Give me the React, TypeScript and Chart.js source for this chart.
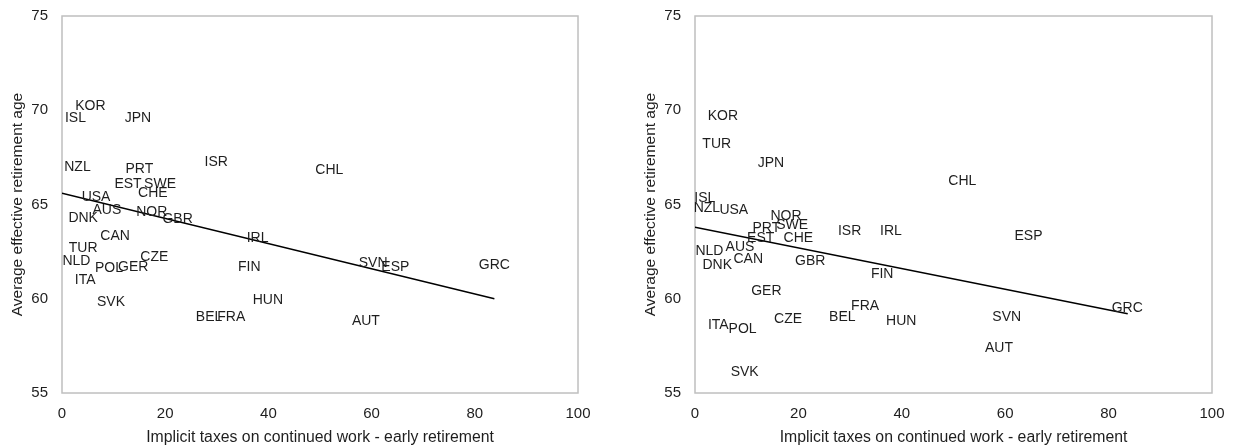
import React, { useEffect, useRef } from "react";
import { Chart, registerables } from "chart.js";

Chart.register(...registerables);

// Left panel
const leftCountries = ["KOR", "ISL", "JPN", "NZL", "PRT", "ISR", "EST", "SWE", "CHE", "USA", "AUS", "DNK", "NOR", "GBR", "CAN", "IRL", "TUR", "NLD", "CZE", "POL", "GER", "FIN", "ITA", "SVK", "HUN", "BEL", "FRA", "CHL", "SVN", "ESP", "GRC", "AUT"];
const leftTaxes = [5.5, 2.6, 14.7, 3.0, 15.0, 29.9, 12.8, 19.0, 17.6, 6.6, 8.7, 4.1, 17.4, 22.4, 10.3, 37.9, 4.1, 2.8, 17.9, 9.1, 13.8, 36.3, 4.5, 9.5, 39.9, 28.5, 32.8, 51.8, 60.3, 64.6, 83.8, 58.9];
const leftAge = [70.2, 69.6, 69.6, 67.0, 66.9, 67.25, 66.1, 66.1, 65.6, 65.4, 64.7, 64.3, 64.6, 64.2, 63.3, 63.2, 62.7, 62.0, 62.2, 61.6, 61.7, 61.7, 61.0, 59.8, 59.9, 59.0, 59.0, 66.8, 61.9, 61.7, 61.8, 58.8];
const leftTrendX = [0, 83.8];
const leftTrendY = [65.6, 60.0];

// Right panel
const rightCountries = ["KOR", "TUR", "JPN", "ISL", "NZL", "USA", "NOR", "PRT", "SWE", "ISR", "IRL", "EST", "CHE", "AUS", "NLD", "CAN", "DNK", "GBR", "FIN", "GER", "FRA", "BEL", "CZE", "HUN", "ITA", "POL", "SVK", "CHL", "ESP", "GRC", "SVN", "AUT"];
const rightTaxes = [5.4, 4.2, 14.7, 1.9, 2.3, 7.5, 17.6, 13.8, 18.8, 29.9, 37.9, 12.7, 20.0, 8.7, 2.8, 10.3, 4.3, 22.3, 36.2, 13.8, 32.9, 28.5, 18.0, 39.9, 4.5, 9.2, 9.6, 51.7, 64.5, 83.6, 60.3, 58.8];
const rightAge = [69.7, 68.2, 67.2, 65.35, 64.8, 64.7, 64.4, 63.75, 63.9, 63.6, 63.6, 63.2, 63.2, 62.75, 62.5, 62.1, 61.8, 62.0, 61.3, 60.4, 59.6, 59.0, 58.9, 58.8, 58.6, 58.4, 56.1, 66.25, 63.3, 59.5, 59.0, 57.4];
const rightTrendX = [0, 83.7];
const rightTrendY = [63.8, 59.2];

const xTicks = [0, 20, 40, 60, 80, 100];
const yTicks = [55, 60, 65, 70, 75];
const xTitle = "Implicit taxes on continued work - early retirement";
const yTitle = "Average effective retirement age";

const FONT = '"Liberation Sans", Arial, sans-serif';
const TEXT = "#1e1e1e";

const boxPlugin = {
  id: "plotBox",
  beforeDatasetsDraw(chart: any) {
    const { ctx, chartArea } = chart;
    ctx.save();
    ctx.strokeStyle = "#bfbfbf";
    ctx.lineWidth = 1.5;
    ctx.strokeRect(chartArea.left, chartArea.top, chartArea.right - chartArea.left, chartArea.bottom - chartArea.top);
    ctx.restore();
  },
};

const labelPlugin = {
  id: "countryLabels",
  afterDatasetsDraw(chart: any) {
    const ctx = chart.ctx;
    const ds: any = chart.data.datasets[0];
    const meta = chart.getDatasetMeta(0);
    ctx.save();
    ctx.font = `14px ${FONT}`;
    ctx.fillStyle = TEXT;
    ctx.textAlign = "center";
    ctx.textBaseline = "middle";
    meta.data.forEach((pt: any, i: number) => {
      ctx.fillText(ds.countryLabels[i], pt.x, pt.y);
    });
    ctx.restore();
  },
};

function Panel(props: {
  left: number;
  width: number;
  padRight: number;
  countries: string[];
  xs: number[];
  ys: number[];
  tx: number[];
  ty: number[];
}) {
  const ref = useRef<HTMLCanvasElement | null>(null);
  useEffect(() => {
    if (!ref.current) return;
    const chart = new Chart(ref.current, {
      type: "scatter",
      data: {
        datasets: [
          {
            data: props.xs.map((x, i) => ({ x, y: props.ys[i] })),
            pointRadius: 0,
            pointHoverRadius: 0,
            countryLabels: props.countries,
          } as any,
          {
            type: "line",
            data: props.tx.map((x, i) => ({ x, y: props.ty[i] })),
            borderColor: "#000000",
            borderWidth: 1.5,
            pointRadius: 0,
            fill: false,
            showLine: true,
          } as any,
        ],
      },
      options: {
        responsive: false,
        animation: false,
        events: [],
        layout: { padding: { top: 16, right: props.padRight, left: 0, bottom: 0 } },
        plugins: { legend: { display: false }, tooltip: { enabled: false } },
        scales: {
          x: {
            type: "linear",
            min: 0,
            max: 100,
            afterBuildTicks: (s: any) => {
              s.ticks = xTicks.map((v) => ({ value: v }));
            },
            afterFit: (s: any) => {
              s.height = 54;
              s.paddingLeft = 0;
              s.paddingRight = 0;
            },
            grid: { display: false, drawTicks: false },
            border: { display: false },
            ticks: { padding: 12, color: TEXT, font: { family: FONT, size: 15 } },
            title: {
              display: true,
              text: xTitle,
              color: TEXT,
              font: { family: FONT, size: 15.8 },
              padding: { top: 0, bottom: 0 },
            },
          },
          y: {
            type: "linear",
            min: 55,
            max: 75,
            afterBuildTicks: (s: any) => {
              s.ticks = yTicks.map((v) => ({ value: v }));
            },
            afterFit: (s: any) => {
              s.width = 62;
              s.paddingTop = 0;
              s.paddingBottom = 0;
            },
            grid: { display: false, drawTicks: false },
            border: { display: false },
            ticks: { padding: 14, color: TEXT, font: { family: FONT, size: 15 } },
            title: {
              display: true,
              text: yTitle,
              color: TEXT,
              font: { family: FONT, size: 15.5 },
              padding: { top: 8, bottom: 0 },
            },
          },
        },
      },
      plugins: [boxPlugin, labelPlugin],
    });
    return () => chart.destroy();
  }, []);
  return (
    <canvas
      ref={ref}
      width={props.width}
      height={447}
      style={{ position: "absolute", left: props.left, top: 0, width: props.width, height: 447 }}
    />
  );
}

export default function App() {
  return (
    <div style={{ position: "absolute", left: 0, top: 0, width: 1238, height: 447, background: "#ffffff" }}>
      <Panel left={0} width={619} padRight={41} countries={leftCountries} xs={leftTaxes} ys={leftAge} tx={leftTrendX} ty={leftTrendY} />
      <Panel left={633} width={605} padRight={26} countries={rightCountries} xs={rightTaxes} ys={rightAge} tx={rightTrendX} ty={rightTrendY} />
    </div>
  );
}
